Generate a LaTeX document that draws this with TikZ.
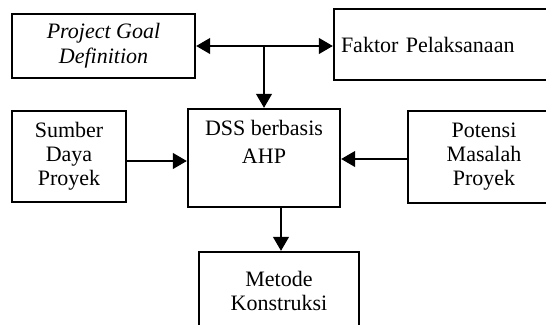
\documentclass[tikz,border=0pt]{standalone}
\usepackage{fontspec}
\setmainfont{Liberation Serif}
\usetikzlibrary{arrows.meta}
\tikzset{
  box/.style={draw=black, line width=2.4pt, fill=white, inner sep=0pt, align=center,
    font=\fontsize{22}{24}\selectfont},
  txt/.style={align=center, inner sep=0pt, font=\fontsize{22}{28}\selectfont},
  conn/.style={line width=1.1pt, -{Triangle[length=14pt,width=16pt]}},
  bconn/.style={line width=1.1pt, {Triangle[length=14pt,width=16pt]}-{Triangle[length=14pt,width=16pt]}}
}
\begin{document}
\begin{tikzpicture}[x=1pt,y=-1pt]
\useasboundingbox (0,0) rectangle (546,324);
\clip (0,0) rectangle (546,324);
% boxes
\node[box, minimum width=183pt, minimum height=64pt] (pgd) at (103.5,46) {\itshape Project Goal\\[1pt]\itshape Definition};
\node[box, minimum width=226pt, minimum height=71pt, text width=212pt, align=left] (fp) at (447,44.5) {Faktor Pelaksanaan};
\node[box, minimum width=152pt, minimum height=98pt] (dss) at (264,158) {};
\node[txt, anchor=north] (dsst) at ([yshift=-12pt]dss.north) {DSS berbasis\\AHP};
\node[box, minimum width=114pt, minimum height=91pt] (sdp) at (69,156.5) {Sumber\\Daya\\Proyek};
\node[box, minimum width=152pt, minimum height=92pt] (pmp) at (484,157) {Potensi\\Masalah\\Proyek};
\node[box, minimum width=160pt, minimum height=78pt] (mk) at (279,291) {Metode\\Konstruksi};
% connectors
\coordinate (j) at (264,46);
\draw[bconn] (pgd.east |- j) -- (fp.west |- j);
\draw[conn] (j) -- (dss.north -| j);
\draw[conn] (sdp.east |- 0,161) -- (dss.west |- 0,161);
\draw[conn] (pmp.west |- 0,159) -- (dss.east |- 0,159);
\draw[conn] (dss.south -| 281,0) -- (mk.north -| 281,0);
\end{tikzpicture}
\end{document}
